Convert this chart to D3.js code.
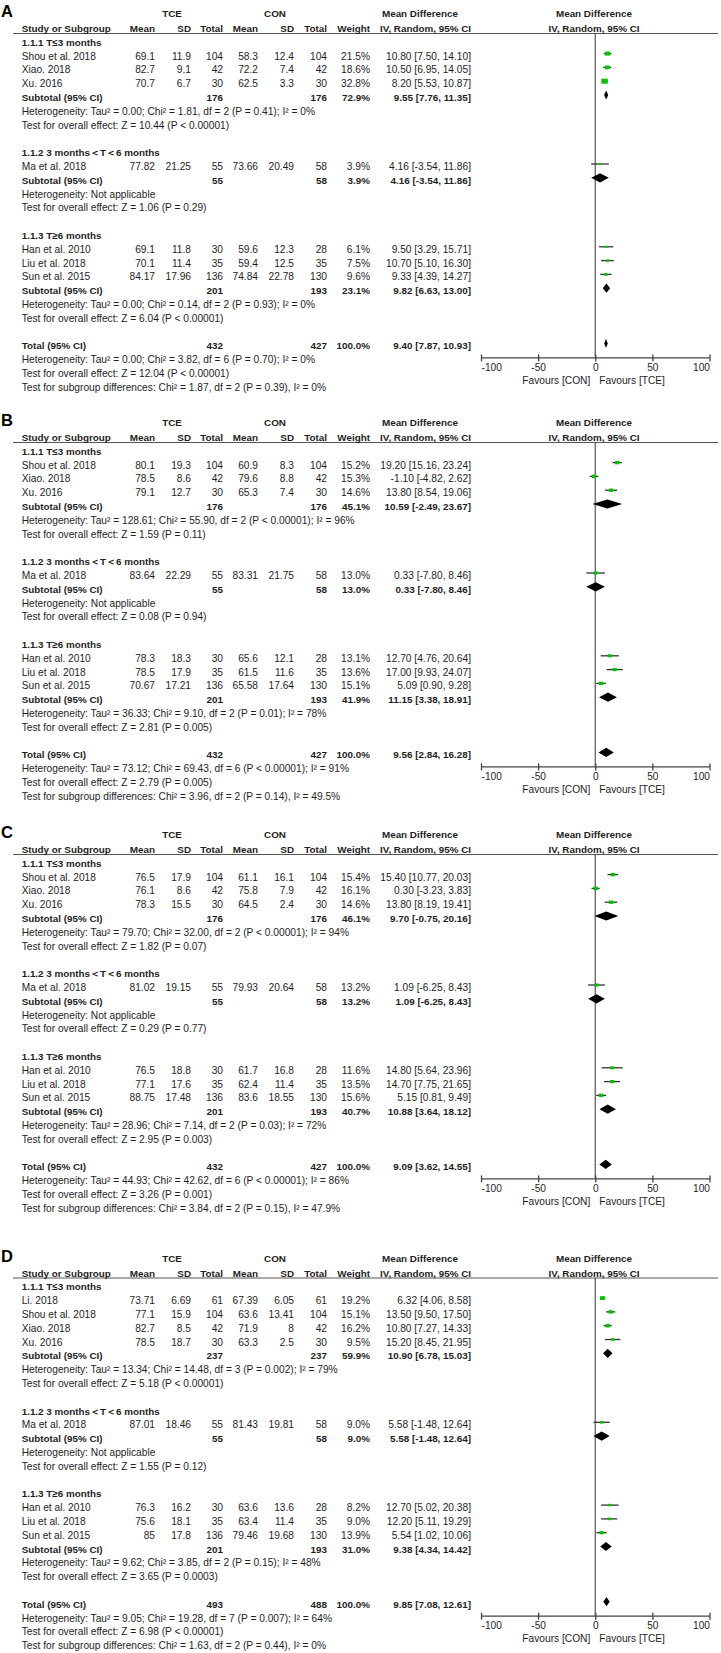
<!DOCTYPE html>
<html>
<head>
<meta charset="utf-8">
<script src="https://cdn.jsdelivr.net/npm/d3@7"></script>
<style>
body { margin: 0; background: #fff; }
svg text { font-family: "Liberation Sans", Arial, sans-serif; fill: #1e1e1e; }
</style>
</head>
<body>
<svg id="chart" width="721" height="1653"></svg>
<script>
// subgroup headings and study names
var subgroupLabels = ["1.1.1 T\u22643 months", "1.1.2 3 months\uFF1CT\uFF1C6 months", "1.1.3 T\u22656 months"];
var studyNames = [["Shou et al. 2018", "Xiao. 2018", "Xu. 2016"], ["Ma et al. 2018"], ["Han et al. 2010", "Liu et al. 2018", "Sun et al. 2015"]];
var studyNamesD = [["Li. 2018", "Shou et al. 2018", "Xiao. 2018", "Xu. 2016"], ["Ma et al. 2018"], ["Han et al. 2010", "Liu et al. 2018", "Sun et al. 2015"]];
var ticks = [-100, -50, 0, 50, 100];

// panel A  (mean, sd, total)
var tceA = [[69.1, 11.9, 104], [82.7, 9.1, 42], [70.7, 6.7, 30], [77.82, 21.25, 55], [69.1, 11.8, 30], [70.1, 11.4, 35], [84.17, 17.96, 136]];
var conA = [[58.3, 12.4, 104], [72.2, 7.4, 42], [62.5, 3.3, 30], [73.66, 20.49, 58], [59.6, 12.3, 28], [59.4, 12.5, 35], [74.84, 22.78, 130]];
var weightA = [21.5, 18.6, 32.8, 3.9, 6.1, 7.5, 9.6];
var mdA = [[10.80, 7.50, 14.10], [10.50, 6.95, 14.05], [8.20, 5.53, 10.87], [4.16, -3.54, 11.86], [9.50, 3.29, 15.71], [10.70, 5.10, 16.30], [9.33, 4.39, 14.27]];
// n tce, n con, weight, md, lo, hi
var subA = [[176, 176, 72.9, 9.55, 7.76, 11.35], [55, 58, 3.9, 4.16, -3.54, 11.86], [201, 193, 23.1, 9.82, 6.63, 13.00]];
var totalA = [432, 427, 100.0, 9.40, 7.87, 10.93];
var hetA = ["Heterogeneity: Tau\u00B2 = 0.00; Chi\u00B2 = 1.81, df = 2 (P = 0.41); I\u00B2 = 0%", "Heterogeneity: Not applicable",
  "Heterogeneity: Tau\u00B2 = 0.00; Chi\u00B2 = 0.14, df = 2 (P = 0.93); I\u00B2 = 0%", "Heterogeneity: Tau\u00B2 = 0.00; Chi\u00B2 = 3.82, df = 6 (P = 0.70); I\u00B2 = 0%"];
var testA = ["Z = 10.44 (P < 0.00001)", "Z = 1.06 (P = 0.29)", "Z = 6.04 (P < 0.00001)", "Z = 12.04 (P < 0.00001)"];
var diffA = "Chi\u00B2 = 1.87, df = 2 (P = 0.39), I\u00B2 = 0%";

// panel B
var tceB = [[80.1, 19.3, 104], [78.5, 8.6, 42], [79.1, 12.7, 30], [83.64, 22.29, 55], [78.3, 18.3, 30], [78.5, 17.9, 35], [70.67, 17.21, 136]];
var conB = [[60.9, 8.3, 104], [79.6, 8.8, 42], [65.3, 7.4, 30], [83.31, 21.75, 58], [65.6, 12.1, 28], [61.5, 11.6, 35], [65.58, 17.64, 130]];
var weightB = [15.2, 15.3, 14.6, 13.0, 13.1, 13.6, 15.1];
var mdB = [[19.20, 15.16, 23.24], [-1.10, -4.82, 2.62], [13.80, 8.54, 19.06], [0.33, -7.80, 8.46], [12.70, 4.76, 20.64], [17.00, 9.93, 24.07], [5.09, 0.90, 9.28]];
var subB = [[176, 176, 45.1, 10.59, -2.49, 23.67], [55, 58, 13.0, 0.33, -7.80, 8.46], [201, 193, 41.9, 11.15, 3.38, 18.91]];
var totalB = [432, 427, 100.0, 9.56, 2.84, 16.28];
var hetB = ["Heterogeneity: Tau\u00B2 = 128.61; Chi\u00B2 = 55.90, df = 2 (P < 0.00001); I\u00B2 = 96%", "Heterogeneity: Not applicable",
  "Heterogeneity: Tau\u00B2 = 36.33; Chi\u00B2 = 9.10, df = 2 (P = 0.01); I\u00B2 = 78%", "Heterogeneity: Tau\u00B2 = 73.12; Chi\u00B2 = 69.43, df = 6 (P < 0.00001); I\u00B2 = 91%"];
var testB = ["Z = 1.59 (P = 0.11)", "Z = 0.08 (P = 0.94)", "Z = 2.81 (P = 0.005)", "Z = 2.79 (P = 0.005)"];
var diffB = "Chi\u00B2 = 3.96, df = 2 (P = 0.14), I\u00B2 = 49.5%";

// panel C
var tceC = [[76.5, 17.9, 104], [76.1, 8.6, 42], [78.3, 15.5, 30], [81.02, 19.15, 55], [76.5, 18.8, 30], [77.1, 17.6, 35], [88.75, 17.48, 136]];
var conC = [[61.1, 16.1, 104], [75.8, 7.9, 42], [64.5, 2.4, 30], [79.93, 20.64, 58], [61.7, 16.8, 28], [62.4, 11.4, 35], [83.6, 18.55, 130]];
var weightC = [15.4, 16.1, 14.6, 13.2, 11.6, 13.5, 15.6];
var mdC = [[15.40, 10.77, 20.03], [0.30, -3.23, 3.83], [13.80, 8.19, 19.41], [1.09, -6.25, 8.43], [14.80, 5.64, 23.96], [14.70, 7.75, 21.65], [5.15, 0.81, 9.49]];
var subC = [[176, 176, 46.1, 9.70, -0.75, 20.16], [55, 58, 13.2, 1.09, -6.25, 8.43], [201, 193, 40.7, 10.88, 3.64, 18.12]];
var totalC = [432, 427, 100.0, 9.09, 3.62, 14.55];
var hetC = ["Heterogeneity: Tau\u00B2 = 79.70; Chi\u00B2 = 32.00, df = 2 (P < 0.00001); I\u00B2 = 94%", "Heterogeneity: Not applicable",
  "Heterogeneity: Tau\u00B2 = 28.96; Chi\u00B2 = 7.14, df = 2 (P = 0.03); I\u00B2 = 72%", "Heterogeneity: Tau\u00B2 = 44.93; Chi\u00B2 = 42.62, df = 6 (P < 0.00001); I\u00B2 = 86%"];
var testC = ["Z = 1.82 (P = 0.07)", "Z = 0.29 (P = 0.77)", "Z = 2.95 (P = 0.003)", "Z = 3.26 (P = 0.001)"];
var diffC = "Chi\u00B2 = 3.84, df = 2 (P = 0.15), I\u00B2 = 47.9%";

// panel D
var tceD = [[73.71, 6.69, 61], [77.1, 15.9, 104], [82.7, 8.5, 42], [78.5, 18.7, 30], [87.01, 18.46, 55], [76.3, 16.2, 30], [75.6, 18.1, 35], [85, 17.8, 136]];
var conD = [[67.39, 6.05, 61], [63.6, 13.41, 104], [71.9, 8, 42], [63.3, 2.5, 30], [81.43, 19.81, 58], [63.6, 13.6, 28], [63.4, 11.4, 35], [79.46, 19.68, 130]];
var weightD = [19.2, 15.1, 16.2, 9.5, 9.0, 8.2, 9.0, 13.9];
var mdD = [[6.32, 4.06, 8.58], [13.50, 9.50, 17.50], [10.80, 7.27, 14.33], [15.20, 8.45, 21.95], [5.58, -1.48, 12.64], [12.70, 5.02, 20.38], [12.20, 5.11, 19.29], [5.54, 1.02, 10.06]];
var subD = [[237, 237, 59.9, 10.90, 6.78, 15.03], [55, 58, 9.0, 5.58, -1.48, 12.64], [201, 193, 31.0, 9.38, 4.34, 14.42]];
var totalD = [493, 488, 100.0, 9.85, 7.08, 12.61];
var hetD = ["Heterogeneity: Tau\u00B2 = 13.34; Chi\u00B2 = 14.48, df = 3 (P = 0.002); I\u00B2 = 79%", "Heterogeneity: Not applicable",
  "Heterogeneity: Tau\u00B2 = 9.62; Chi\u00B2 = 3.85, df = 2 (P = 0.15); I\u00B2 = 48%", "Heterogeneity: Tau\u00B2 = 9.05; Chi\u00B2 = 19.28, df = 7 (P = 0.007); I\u00B2 = 64%"];
var testD = ["Z = 5.18 (P < 0.00001)", "Z = 1.55 (P = 0.12)", "Z = 3.65 (P = 0.0003)", "Z = 6.98 (P < 0.00001)"];
var diffD = "Chi\u00B2 = 1.63, df = 2 (P = 0.44), I\u00B2 = 0%";

var panels = [
  { letter: "A", top: 32, names: studyNames, tce: tceA, con: conA, weight: weightA, md: mdA, sub: subA, total: totalA, het: hetA, test: testA, diff: diffA },
  { letter: "B", top: 441, names: studyNames, tce: tceB, con: conB, weight: weightB, md: mdB, sub: subB, total: totalB, het: hetB, test: testB, diff: diffB },
  { letter: "C", top: 853, names: studyNames, tce: tceC, con: conC, weight: weightC, md: mdC, sub: subC, total: totalC, het: hetC, test: testC, diff: diffC },
  { letter: "D", top: 1276.5, names: studyNamesD, tce: tceD, con: conD, weight: weightD, md: mdD, sub: subD, total: totalD, het: hetD, test: testD, diff: diffD }
];

var svg = d3.select("#chart");
svg.append("rect").attr("width", 721).attr("height", 1653).attr("fill", "#fff");

var ROW = 13.8, labelX = 21.7;
var FS = 10.2, FSB = 9.85;
var col = { tceMean: 155, tceSD: 191, tceN: 223, conMean: 258, conSD: 294, conN: 327, weight: 370, ci: 471 };
var x = d3.scaleLinear().domain([-100, 100]).range([481, 709.5]);

function fmtCI(m, lo, hi) {
  return m.toFixed(2) + " [" + lo.toFixed(2) + ", " + hi.toFixed(2) + "]";
}

function txt(g, s, xx, yy, anchor, bold) {
  return g.append("text")
    .attr("x", xx).attr("y", yy)
    .attr("text-anchor", anchor || "start")
    .attr("font-size", bold ? FSB : FS)
    .attr("font-weight", bold ? "bold" : "normal")
    .text(s);
}

panels.forEach(function (p) {
  var g = svg.append("g");
  // build rows
  var rows = [{ type: "header" }];
  var k = 0;
  p.names.forEach(function (group, gi) {
    rows.push({ type: "group", label: subgroupLabels[gi] });
    group.forEach(function (name) {
      rows.push({ type: "study", label: name, i: k });
      k++;
    });
    rows.push({ type: "sum", label: "Subtotal (95% CI)", v: p.sub[gi] });
    rows.push({ type: "note", label: p.het[gi] });
    rows.push({ type: "note", label: "Test for overall effect: " + p.test[gi] });
    rows.push({ type: "blank" });
  });
  rows.push({ type: "sum", label: "Total (95% CI)", v: p.total, total: true });
  rows.push({ type: "note", label: p.het[3] });
  rows.push({ type: "note", label: "Test for overall effect: " + p.test[3] });
  rows.push({ type: "note", label: "Test for subgroup differences: " + p.diff });

  var y = d3.scaleLinear().domain([0, 1]).range([p.top, p.top + ROW]);
  var totalRow = rows.findIndex(function (r) { return r.total; });
  var axisY = y(totalRow) + 8;
  var lineY = p.top + 1.5;

  // titles
  g.append("text").attr("x", 1).attr("y", p.top - 15).attr("font-size", 16.5)
    .attr("font-weight", "bold").style("fill", "#000").text(p.letter);
  txt(g, "TCE", 172, p.top - 15, "middle", true);
  txt(g, "CON", 275, p.top - 15, "middle", true);
  txt(g, "Mean Difference", 420, p.top - 15, "middle", true);
  txt(g, "Mean Difference", 594, p.top - 15, "middle", true);

  // header line and zero line
  g.append("line").attr("x1", 13).attr("x2", 718).attr("y1", lineY).attr("y2", lineY)
    .attr("stroke", "#555").attr("stroke-width", 1);
  g.append("line").attr("x1", x(0)).attr("x2", x(0)).attr("y1", lineY).attr("y2", axisY)
    .attr("stroke", "#555").attr("stroke-width", 1.2);

  rows.forEach(function (r, ri) {
    var by = y(ri);
    var cy = by - 6;
    if (r.type === "header") {
      txt(g, "Study or Subgroup", labelX, by, "start", true);
      txt(g, "Mean", col.tceMean, by, "end", true);
      txt(g, "SD", col.tceSD, by, "end", true);
      txt(g, "Total", col.tceN, by, "end", true);
      txt(g, "Mean", col.conMean, by, "end", true);
      txt(g, "SD", col.conSD, by, "end", true);
      txt(g, "Total", col.conN, by, "end", true);
      txt(g, "Weight", col.weight, by, "end", true);
      txt(g, "IV, Random, 95% CI", col.ci, by, "end", true);
      txt(g, "IV, Random, 95% CI", 594, by, "middle", true);
    } else if (r.type === "group") {
      txt(g, r.label, labelX, by, "start", true);
    } else if (r.type === "note") {
      txt(g, r.label, labelX, by, "start", false);
    } else if (r.type === "study") {
      var t = p.tce[r.i], c = p.con[r.i], m = p.md[r.i], w = p.weight[r.i];
      txt(g, r.label, labelX, by);
      txt(g, String(t[0]), col.tceMean, by, "end");
      txt(g, String(t[1]), col.tceSD, by, "end");
      txt(g, String(t[2]), col.tceN, by, "end");
      txt(g, String(c[0]), col.conMean, by, "end");
      txt(g, String(c[1]), col.conSD, by, "end");
      txt(g, String(c[2]), col.conN, by, "end");
      txt(g, w.toFixed(1) + "%", col.weight, by, "end");
      txt(g, fmtCI(m[0], m[1], m[2]), col.ci, by, "end");
      g.append("line").attr("x1", x(m[1])).attr("x2", x(m[2])).attr("y1", cy).attr("y2", cy)
        .attr("stroke", "#333").attr("stroke-width", 1.3);
      var s = Math.max(2, 1.1 * Math.sqrt(w));
      g.append("rect").attr("x", x(m[0]) - s / 2).attr("y", cy - s * 0.4)
        .attr("width", s).attr("height", s * 0.8).attr("fill", "#00c400");
    } else if (r.type === "sum") {
      var v = r.v;
      txt(g, r.label, labelX, by, "start", true);
      txt(g, String(v[0]), col.tceN, by, "end", true);
      txt(g, String(v[1]), col.conN, by, "end", true);
      txt(g, v[2].toFixed(1) + "%", col.weight, by, "end", true);
      txt(g, fmtCI(v[3], v[4], v[5]), col.ci, by, "end", true);
      var h = 4.6;
      g.append("polygon")
        .attr("points", [[x(v[4]), cy], [x(v[3]), cy - h], [x(v[5]), cy], [x(v[3]), cy + h]].map(function (q) { return q.join(","); }).join(" "))
        .attr("fill", "#000");
    }
  });

  // axis
  var ax = g.append("g").attr("transform", "translate(0," + axisY + ")")
    .call(d3.axisBottom(x).tickValues(ticks).tickSize(4).tickSizeOuter(0).tickFormat(function (d) { return String(d); }));
  ax.select(".domain").attr("stroke", "#444").attr("stroke-width", 1.3);
  ax.selectAll(".tick line").attr("y1", -3).attr("y2", 4).attr("stroke", "#444").attr("stroke-width", 1.3);
  ax.selectAll(".tick text")
    .attr("y", 13.5).attr("dy", 0)
    .attr("font-size", FS)
    .attr("font-family", "Liberation Sans, Arial, sans-serif")
    .style("fill", "#1e1e1e")
    .attr("text-anchor", function (d, i) { return i === 0 ? "start" : (i === ticks.length - 1 ? "end" : "middle"); });
  txt(g, "Favours [CON]", x(0) - 5, axisY + 26.5, "end");
  txt(g, "Favours [TCE]", x(0) + 4, axisY + 26.5, "start");
});
</script>
</body>
</html>
